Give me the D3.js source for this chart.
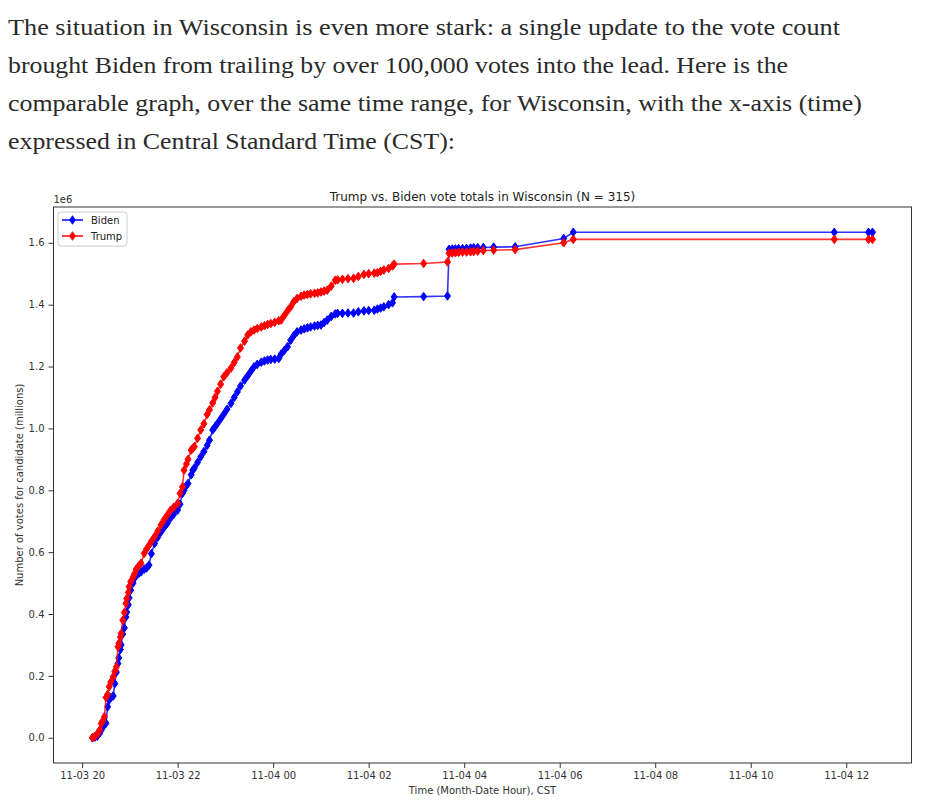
<!DOCTYPE html>
<html>
<head>
<meta charset="utf-8">
<script src="https://cdn.jsdelivr.net/npm/d3@7"></script>
<style>
  html, body { margin: 0; padding: 0; background: #fff; }
  svg { display: block; }
</style>
</head>
<body>
<svg id="chart" width="932" height="805"></svg>
<script>
// ---------- data ----------
const paragraphLines = [
  "The situation in Wisconsin is even more stark: a single update to the vote count",
  "brought Biden from trailing by over 100,000 votes into the lead. Here is the",
  "comparable graph, over the same time range, for Wisconsin, with the x-axis (time)",
  "expressed in Central Standard Time (CST):"
];
const chartTitle = "Trump vs. Biden vote totals in Wisconsin (N = 315)";
const xLabel = "Time (Month-Date Hour), CST";
const yLabel = "Number of votes for candidate (millions)";
const seriesNames = ["Biden", "Trump"];

// timestamps (CST)
const times = [
  "11-03 20:13","11-03 20:16","11-03 20:19","11-03 20:22","11-03 20:24","11-03 20:26","11-03 20:28",
  "11-03 20:30","11-03 20:32","11-03 20:34","11-03 20:36","11-03 20:39","11-03 20:41","11-03 20:43",
  "11-03 20:45","11-03 20:46","11-03 20:48","11-03 20:49","11-03 20:51","11-03 20:53","11-03 20:55",
  "11-03 20:56","11-03 20:58","11-03 20:59","11-03 21:01","11-03 21:04","11-03 21:06","11-03 21:08",
  "11-03 21:11","11-03 21:14","11-03 21:18","11-03 21:21","11-03 21:24","11-03 21:27","11-03 21:31",
  "11-03 21:35","11-03 21:39","11-03 21:43","11-03 21:47","11-03 21:51","11-03 21:55","11-03 22:00",
  "11-03 22:03","11-03 22:06","11-03 22:08","11-03 22:11","11-03 22:13","11-03 22:17","11-03 22:19",
  "11-03 22:21","11-03 22:25","11-03 22:29","11-03 22:33","11-03 22:37","11-03 22:40","11-03 22:44",
  "11-03 22:47","11-03 22:50","11-03 22:54","11-03 22:58","11-03 23:02","11-03 23:07","11-03 23:11",
  "11-03 23:15","11-03 23:19","11-03 23:24","11-03 23:28","11-03 23:32","11-03 23:36","11-03 23:40",
  "11-03 23:45","11-03 23:49","11-03 23:53","11-03 23:57","11-04 00:02","11-04 00:07","11-04 00:10",
  "11-04 00:14","11-04 00:18","11-04 00:22","11-04 00:26","11-04 00:30","11-04 00:35","11-04 00:39",
  "11-04 00:43","11-04 00:47","11-04 00:52","11-04 00:56","11-04 01:00","11-04 01:04","11-04 01:08",
  "11-04 01:13","11-04 01:18","11-04 01:21","11-04 01:27","11-04 01:34","11-04 01:41","11-04 01:47",
  "11-04 01:54","11-04 02:00","11-04 02:07","11-04 02:11","11-04 02:15","11-04 02:19","11-04 02:25",
  "11-04 02:30","11-04 02:32","11-04 03:09","11-04 03:39","11-04 03:41","11-04 03:45","11-04 03:49",
  "11-04 03:53","11-04 03:58","11-04 04:03","11-04 04:08","11-04 04:12","11-04 04:17","11-04 04:24",
  "11-04 04:37","11-04 05:04","11-04 06:05","11-04 06:17","11-04 11:45","11-04 12:28","11-04 12:33"
];

// vote totals (thousands)
const bidenVotes = [
  0,2,5,15,25,35,42,
  47,100,122,130,135,175,212,
  240,258,285,300,335,355,390,
  406,430,452,477,500,516,526,
  531,536,545,549,558,595,628,
  648,665,680,693,710,722,736,
  755,790,800,815,822,850,865,
  872,890,908,925,945,962,995,
  1005,1016,1031,1046,1062,1081,1100,
  1118,1137,1156,1170,1185,1199,1207,
  1214,1218,1221,1223,1224,1226,1240,
  1252,1264,1285,1300,1312,1318,1322,
  1325,1328,1331,1333,1334,1342,1350,
  1362,1370,1372,1372,1373,1373,1377,
  1380,1381,1382,1386,1389,1393,1400,
  1406,1425,1426,1428,1579,1580,1580,
  1581,1581,1582,1583,1584,1584,1585,
  1586,1587,1614,1634,1634,1634,1634
];
const trumpVotes = [
  0,5,12,25,46,55,68,
  130,140,165,180,197,215,229,
  294,305,325,337,380,405,434,
  450,470,488,505,520,531,545,
  555,564,596,610,622,635,650,
  668,688,705,720,735,745,758,
  790,811,865,885,900,930,936,
  941,968,995,1015,1045,1060,1082,
  1100,1120,1143,1167,1180,1195,1213,
  1231,1260,1282,1302,1312,1318,1323,
  1328,1332,1336,1339,1343,1348,1350,
  1365,1380,1393,1410,1420,1427,1431,
  1433,1435,1437,1438,1441,1444,1447,
  1460,1479,1480,1482,1484,1485,1491,
  1498,1500,1502,1503,1508,1512,1517,
  1525,1531,1533,1538,1566,1567,1568,
  1569,1570,1570,1571,1572,1573,1575,
  1576,1578,1600,1611,1611,1611,1611
];
const yTickValues = [0, 0.2, 0.4, 0.6, 0.8, 1.0, 1.2, 1.4, 1.6];
const seriesColors = ["#0000ff", "#ff0000"];

// ---------- layout ----------
const svg = d3.select("#chart");
const plot = { left: 53.5, right: 911.5, top: 207, bottom: 763 };

// paragraph text
const para = svg.append("g");
const paraWidths = [832, 780, 854, 447];
paragraphLines.forEach((t, i) => {
  para.append("text")
    .attr("x", 8).attr("y", 35 + i * 38)
    .attr("textLength", paraWidths[i])
    .attr("lengthAdjust", "spacingAndGlyphs")
    .style("font-family", "'Liberation Serif', 'DejaVu Serif', serif")
    .style("font-size", "23.5px")
    .style("fill", "#2a2a2a")
    .text(t);
});

const parse = d3.utcParse("%m-%d %H:%M");
const dates = times.map(t => { const d = parse(t); d.setUTCFullYear(2020); return d; });
const series = seriesNames.map((name, si) => ({
  name,
  color: seriesColors[si],
  values: dates.map((d, i) => ({ t: d, v: (si === 0 ? bidenVotes : trumpVotes)[i] * 1000 }))
}));

const tExt = d3.extent(dates);
const tPad = (tExt[1] - tExt[0]) * 0.05;
const x = d3.scaleUtc()
  .domain([new Date(+tExt[0] - tPad), new Date(+tExt[1] + tPad)])
  .range([plot.left, plot.right]);

const vMax = d3.max(series, s => d3.max(s.values, d => d.v));
const vPad = vMax * 0.05;
const y = d3.scaleLinear()
  .domain([-vPad, vMax + vPad])
  .range([plot.bottom, plot.top]);

const fontSans = "'DejaVu Sans', sans-serif";

// axes
const xAxis = d3.axisBottom(x)
  .ticks(d3.utcHour.every(2))
  .tickFormat(d3.utcFormat("%m-%d %H"))
  .tickSizeInner(5).tickSizeOuter(0).tickPadding(4);
const gx = svg.append("g").attr("transform", `translate(0,${plot.bottom})`).call(xAxis);

const yAxis = d3.axisLeft(y)
  .tickValues(yTickValues.map(v => v * 1e6))
  .tickFormat(d => (d / 1e6).toFixed(1))
  .tickSizeInner(5).tickSizeOuter(0).tickPadding(4);
const gy = svg.append("g").attr("transform", `translate(${plot.left},0)`).call(yAxis);

[gx, gy].forEach(g => {
  g.select(".domain").remove();
  g.selectAll(".tick line").attr("stroke", "#333");
  g.selectAll(".tick text").style("font-family", fontSans).style("font-size", "10px").style("fill", "#333");
});

// frame
svg.append("rect")
  .attr("x", plot.left).attr("y", plot.top)
  .attr("width", plot.right - plot.left).attr("height", plot.bottom - plot.top)
  .attr("fill", "none").attr("stroke", "#333").attr("stroke-width", 1);

// clip
svg.append("clipPath").attr("id", "clip").append("rect")
  .attr("x", plot.left).attr("y", plot.top)
  .attr("width", plot.right - plot.left).attr("height", plot.bottom - plot.top);

const line = d3.line().x(d => x(d.t)).y(d => y(d.v));
const diamond = "M0,-4.3 L3,0 L0,4.3 L-3,0 Z";

const marks = svg.append("g").attr("clip-path", "url(#clip)");
series.forEach(s => {
  const g = marks.append("g");
  g.append("path").datum(s.values)
    .attr("d", line).attr("fill", "none")
    .attr("stroke", s.color).attr("stroke-width", 1.6).attr("stroke-opacity", 0.8);
  g.selectAll("path.m").data(s.values).enter().append("path")
    .attr("class", "m")
    .attr("d", diamond)
    .attr("transform", d => `translate(${x(d.t)},${y(d.v)})`)
    .attr("fill", s.color).attr("stroke", s.color).attr("stroke-width", 1);
});

// title, offset label, axis labels
svg.append("text")
  .attr("x", (plot.left + plot.right) / 2).attr("y", 201)
  .attr("text-anchor", "middle")
  .style("font-family", fontSans).style("font-size", "12px").style("fill", "#222")
  .text(chartTitle);
svg.append("text")
  .attr("x", plot.left).attr("y", 203)
  .style("font-family", fontSans).style("font-size", "10px").style("fill", "#333")
  .text("1e6");
svg.append("text")
  .attr("x", (plot.left + plot.right) / 2).attr("y", 794)
  .attr("text-anchor", "middle")
  .style("font-family", fontSans).style("font-size", "10px").style("fill", "#333")
  .text(xLabel);
svg.append("text")
  .attr("transform", `translate(23,${(plot.top + plot.bottom) / 2}) rotate(-90)`)
  .attr("text-anchor", "middle")
  .style("font-family", fontSans).style("font-size", "10px").style("fill", "#333")
  .text(yLabel);

// legend
const lg = svg.append("g");
lg.append("rect")
  .attr("x", 58).attr("y", 212).attr("width", 69).attr("height", 34).attr("rx", 3)
  .attr("fill", "#fff").attr("fill-opacity", 0.8)
  .attr("stroke", "#ccc").attr("stroke-width", 1);
series.forEach((s, i) => {
  const cy = 220 + i * 16;
  lg.append("line").attr("x1", 62).attr("x2", 83).attr("y1", cy).attr("y2", cy)
    .attr("stroke", s.color).attr("stroke-width", 1.5);
  lg.append("path").attr("d", diamond).attr("transform", `translate(72.5,${cy})`)
    .attr("fill", s.color).attr("stroke", s.color).attr("stroke-width", 0.8);
  lg.append("text").attr("x", 91).attr("y", cy + 3.5)
    .style("font-family", fontSans).style("font-size", "10px").style("fill", "#222")
    .text(s.name);
});
</script>
</body>
</html>
